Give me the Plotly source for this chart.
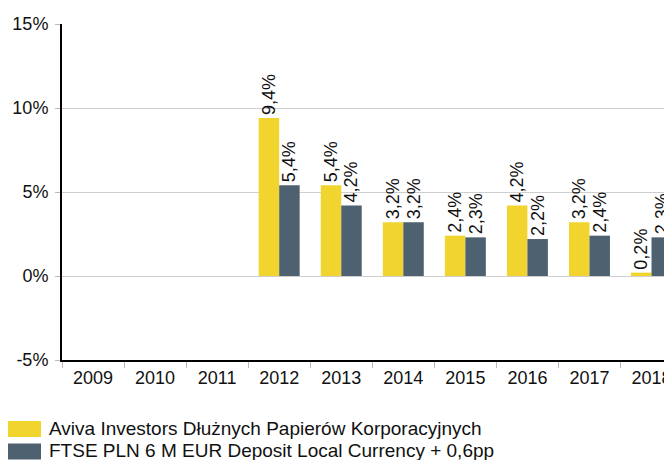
import plotly.graph_objects as go

years = ["2009", "2010", "2011", "2012", "2013", "2014", "2015", "2016", "2017", "2018"]
fund_name = "Aviva Investors Dłużnych Papierów Korporacyjnych"
bench_name = "FTSE PLN 6 M EUR Deposit Local Currency + 0,6pp"
fund = [None, None, None, 9.4, 5.4, 3.2, 2.4, 4.2, 3.2, 0.2]
bench = [None, None, None, 5.4, 4.2, 3.2, 2.3, 2.2, 2.4, 2.3]
y_ticks = [-5, 0, 5, 10, 15]
y_tick_text = ["-5%", "0%", "5%", "10%", "15%"]

YELLOW = "#F1D42E"
SLATE = "#4E6170"
FONT = "Liberation Sans, Arial, sans-serif"
FS = 18

OFF = 8  # default body margin of the html page
# plot area in page pixels: x 62..672, y 24..360
W, H = 672 - OFF, 460 - OFF
L, T, B = 62 - OFF, 24 - OFF, 100
PW, PH = W - L, H - T - B


def px_x(x):
    return (x - 62) / PW


def px_y(y):
    return (360 - y) / PH


def fmt(v):
    return "" if v is None else f"{v:.1f}%".replace(".", ",")


fig = go.Figure()
for name, vals, col in [(fund_name, fund, YELLOW), (bench_name, bench, SLATE)]:
    fig.add_trace(go.Bar(
        x=years, y=vals, name=name, marker_color=col, marker_line_width=0,
        text=[fmt(v) for v in vals], textposition="outside", textangle=-90,
        constraintext="none",
        textfont=dict(family=FONT, size=FS, color="#111"), cliponaxis=False,
        showlegend=False,
    ))

# manual legend
for i, (name, col) in enumerate([(fund_name, YELLOW), (bench_name, SLATE)]):
    top = 421 + i * 22.5
    fig.add_shape(type="rect", xref="paper", yref="paper",
                  x0=px_x(4), x1=px_x(41), y0=px_y(top + 16), y1=px_y(top),
                  fillcolor=col, line_width=0)
    fig.add_annotation(xref="paper", yref="paper", x=px_x(48),
                       y=px_y(top + 7.5 - i), text=name, showarrow=False,
                       xanchor="left", yanchor="middle", borderpad=0,
                       font=dict(family=FONT, size=FS + 1, color="#111"))

fig.update_layout(
    width=W, height=H,
    margin=dict(l=L, r=0, t=T, b=B, autoexpand=False),
    paper_bgcolor="white", plot_bgcolor="white",
    barmode="group", bargap=0.34, bargroupgap=0,
    font=dict(family=FONT, size=FS, color="#111"),
)
fig.update_xaxes(
    type="category", range=[-0.5, 9.33], automargin=False,
    showline=True, linecolor="black", linewidth=2,
    ticks="outside", tickson="boundaries", ticklen=6, tickcolor="#bbbbbb",
    tickfont=dict(family=FONT, size=FS, color="#111"), showgrid=False,
)
fig.update_yaxes(
    range=[-5, 15], tickvals=y_ticks, ticktext=y_tick_text, automargin=False,
    showline=True, linecolor="black", linewidth=2,
    showgrid=True, gridcolor="#cfcfcf", gridwidth=1, zeroline=False,
    ticks="outside", ticklen=5, tickcolor="#bbbbbb", ticklabelstandoff=3,
    tickfont=dict(family=FONT, size=FS, color="#111"),
)

fig.write_html("out.html")
